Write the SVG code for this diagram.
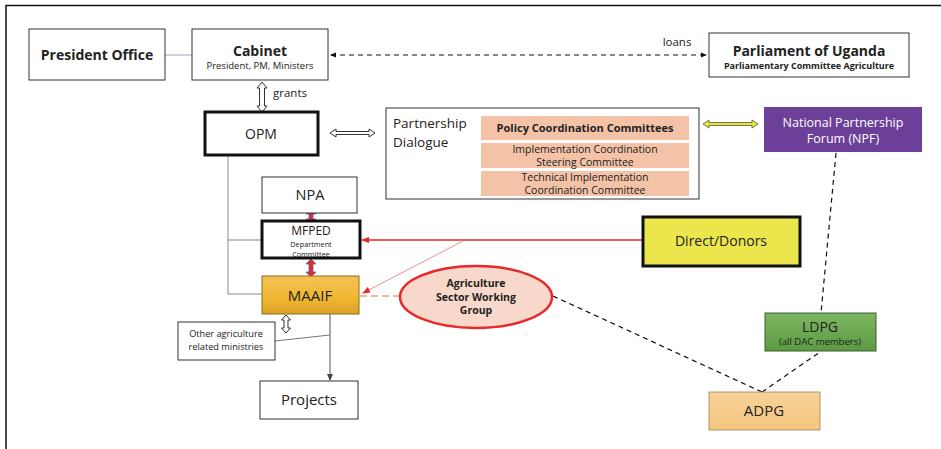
<svg xmlns="http://www.w3.org/2000/svg" width="941" height="449" viewBox="0 0 941 449">
<defs>
<style>
text{font-family:"Open Sans","Liberation Sans",sans-serif;fill:#222;text-anchor:middle}
.b{font-weight:bold}
.box{fill:#fff;stroke:#333;stroke-width:1}
.thick{fill:#fff;stroke:#111;stroke-width:3}
.gl{stroke:#888;stroke-width:1;fill:none}
.dash{stroke:#111;stroke-width:1.2;stroke-dasharray:5,4;fill:none}
.hollow{fill:#fff;stroke:#333;stroke-width:1}
.red2{fill:#E8282A;stroke:#4A6AA8;stroke-width:0.8}
.salmon{fill:#F4C2A6}
</style>
<linearGradient id="gold" x1="0" y1="0" x2="0" y2="1"><stop offset="0" stop-color="#F6C256"/><stop offset="0.6" stop-color="#F0B62E"/><stop offset="1" stop-color="#D9A22A"/></linearGradient>
<linearGradient id="green" x1="0" y1="0" x2="0" y2="1"><stop offset="0" stop-color="#7DB663"/><stop offset="1" stop-color="#5B9A42"/></linearGradient>
<linearGradient id="peach" x1="0" y1="0" x2="0" y2="1"><stop offset="0" stop-color="#F8D29A"/><stop offset="1" stop-color="#F5C67E"/></linearGradient>
<marker id="ak" markerWidth="6" markerHeight="6" refX="5" refY="3" orient="auto-start-reverse" markerUnits="userSpaceOnUse"><path d="M0,0.5 L6,3 L0,5.5Z" fill="#111"/></marker>
<marker id="ar" markerWidth="8" markerHeight="8" refX="7" refY="4" orient="auto" markerUnits="userSpaceOnUse"><path d="M0,1 L8,4 L0,7Z" fill="#E8282A"/></marker>
<marker id="ag" markerWidth="7" markerHeight="7" refX="6" refY="3.5" orient="auto" markerUnits="userSpaceOnUse"><path d="M0,0.5 L7,3.5 L0,6.5Z" fill="#444"/></marker>
</defs>
<rect width="941" height="449" fill="#fff"/>
<path d="M6,449 V5.5 H941" fill="none" stroke="#111" stroke-width="1.5"/>

<g id="connectors">
<line x1="165" y1="55" x2="192" y2="55" stroke="#9AA6C0" stroke-width="1"/>
<line x1="331" y1="55" x2="706" y2="55" class="dash" marker-start="url(#ak)" marker-end="url(#ak)"/>
<text x="677" y="46" font-size="11.5">loans</text>
<path class="hollow" d="M262,82 L267,88 L264.5,88 L264.5,106 L267,106 L262,112 L257,106 L259.5,106 L259.5,88 L257,88Z"/>
<text x="290" y="97" font-size="11.5">grants</text>
<path class="hollow" d="M330,133 L336,129 L336,131.5 L369,131.5 L369,129 L375,133 L369,137 L369,134.5 L336,134.5 L336,137Z"/>
<path d="M703,124 L709,120 L709,122.5 L752,122.5 L752,120 L758,124 L752,128 L752,125.5 L709,125.5 L709,128Z" fill="#E6E62A" stroke="#555" stroke-width="0.8"/>
<path class="red2" d="M311,209 L316,214 L313,214 L313,219 L316,219 L311,224 L306,219 L309,219 L309,214 L306,214Z"/>
<path class="red2" d="M311,259 L316,264 L313,264 L313,272 L316,272 L311,277 L306,272 L309,272 L309,264 L306,264Z"/>
<path class="gl" d="M228,155 V294 H262 M228,240 H262"/>
<line x1="642" y1="240" x2="362" y2="240" stroke="#E8282A" stroke-width="1.3" marker-end="url(#ar)"/>
<line x1="465" y1="240" x2="363" y2="293" stroke="#F07070" stroke-width="0.8" marker-end="url(#ar)"/>
<line x1="360" y1="296" x2="399" y2="296" stroke="#F0A080" stroke-width="1.5" stroke-dasharray="7,4"/>
<path class="hollow" d="M286,315 L290.5,320 L288,320 L288,328 L290.5,328 L286,333 L281.5,328 L284,328 L284,320 L281.5,320Z"/>
<line x1="330" y1="314" x2="330" y2="380" stroke="#555" stroke-width="1" marker-end="url(#ag)"/>
<line x1="275" y1="341" x2="330" y2="335" stroke="#777" stroke-width="1"/>
<line x1="553" y1="296" x2="762" y2="392" class="dash"/>
<line x1="762" y1="392" x2="820" y2="352" class="dash"/>
<line x1="836" y1="153" x2="821" y2="313" class="dash"/>
</g>

<g id="president-office"><rect class="box" x="29" y="29" width="136" height="51"/><text x="97" y="60" font-size="14" class="b">President Office</text></g>
<g id="cabinet"><rect class="box" x="192" y="29" width="136" height="51"/><text x="260" y="56" font-size="14" class="b">Cabinet</text><text x="260" y="69" font-size="9.5">President, PM, Ministers</text></g>
<g id="parliament"><rect class="box" x="709" y="33" width="200" height="44"/><text x="809" y="56" font-size="14" class="b">Parliament of Uganda</text><text x="809" y="69" font-size="9" class="b">Parliamentary Committee Agriculture</text></g>
<g id="opm"><rect class="thick" x="205" y="112" width="113" height="43"/><text x="261" y="139" font-size="14">OPM</text></g>
<g id="partnership-dialogue"><rect class="box" x="386" y="108" width="313" height="91"/>
<text x="393" y="128" font-size="13.5" style="text-anchor:start">Partnership</text>
<text x="393" y="146.5" font-size="13.5" style="text-anchor:start">Dialogue</text>
<rect class="salmon" x="481" y="116" width="208" height="24"/><text x="585" y="132" font-size="11" class="b">Policy Coordination Committees</text>
<rect class="salmon" x="481" y="143" width="208" height="25"/><text x="585" y="153" font-size="10.5">Implementation Coordination</text><text x="585" y="165.5" font-size="10.5">Steering Committee</text>
<rect class="salmon" x="481" y="171" width="208" height="25"/><text x="585" y="181" font-size="10.5">Technical Implementation</text><text x="585" y="193.5" font-size="10.5">Coordination Committee</text>
</g>
<g id="npf"><rect x="764" y="107" width="158" height="45" fill="#6C3F98"/><text x="843" y="127" font-size="12.5" style="fill:#fff">National Partnership</text><text x="843" y="143" font-size="12.5" style="fill:#fff">Forum (NPF)</text></g>
<g id="npa"><rect class="box" x="262" y="177" width="95" height="36"/><text x="310" y="200" font-size="14.5">NPA</text></g>
<g id="mfped"><rect class="thick" x="262" y="221" width="98" height="37"/><text x="311" y="235" font-size="12">MFPED</text><text x="311" y="247" font-size="7.3">Department</text><text x="311" y="257" font-size="7.3">Committee</text></g>
<g id="maaif"><rect x="262" y="276" width="97" height="38" fill="url(#gold)" stroke="#8A6D1A" stroke-width="1"/><text x="310" y="301" font-size="15">MAAIF</text></g>
<g id="direct-donors"><rect x="643" y="217" width="157" height="49" fill="#EAE64C" stroke="#111" stroke-width="3"/><text x="721" y="246" font-size="14">Direct/Donors</text></g>
<g id="aswg"><ellipse cx="476" cy="297" rx="76" ry="31" fill="#F8D8CB" stroke="#E8282A" stroke-width="2.5"/><text x="476" y="287" font-size="10.5" class="b">Agriculture</text><text x="476" y="300.5" font-size="10.5" class="b">Sector Working</text><text x="476" y="314" font-size="10.5" class="b">Group</text></g>
<g id="other-ministries"><rect class="box" x="178" y="322" width="97" height="38"/><text x="226" y="337" font-size="9.2">Other agriculture</text><text x="226" y="350" font-size="9.2">related ministries</text></g>
<g id="projects"><rect class="box" x="260" y="381" width="98" height="38"/><text x="309" y="405" font-size="15">Projects</text></g>
<g id="ldpg"><rect x="765" y="313" width="111" height="38" fill="url(#green)" stroke="#3D5E2C" stroke-width="1"/><text x="820" y="332" font-size="14">LDPG</text><text x="820" y="345" font-size="9.5">(all DAC members)</text></g>
<g id="adpg"><rect x="709" y="392" width="111" height="38" fill="url(#peach)" stroke="#A08050" stroke-width="0.8"/><text x="764" y="416" font-size="15">ADPG</text></g>
</svg>
